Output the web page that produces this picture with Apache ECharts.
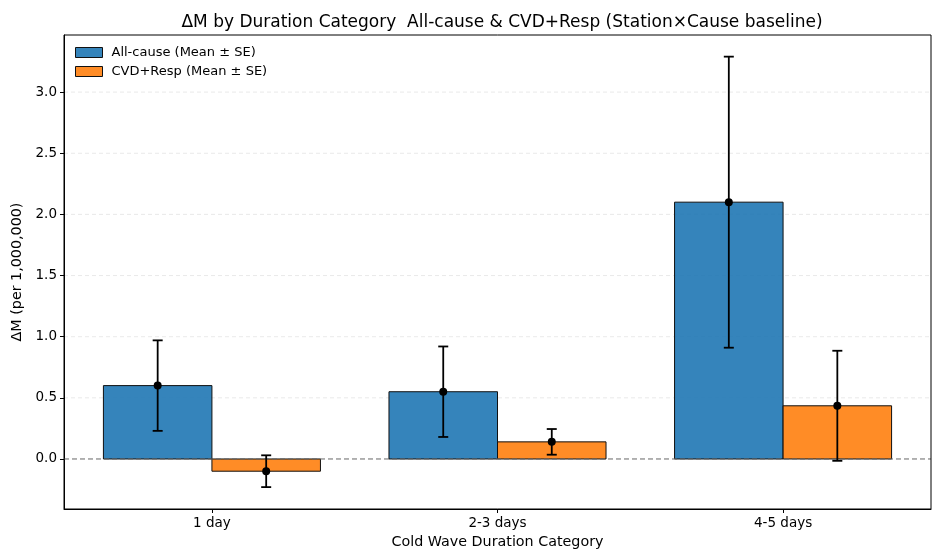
<!DOCTYPE html>
<html>
<head>
<meta charset="UTF-8">
<title>ΔM by Duration Category</title>
<script src="https://cdn.jsdelivr.net/npm/echarts@6/dist/echarts.min.js"></script>
<style>
  html, body { margin: 0; padding: 0; background: #fff; }
  #main { width: 945px; height: 559px; }
</style>
</head>
<body>
<div id="main"></div>
<script>
// data
var categories = ['1 day', '2-3 days', '4-5 days'];
var allMean = [0.60, 0.55, 2.10];
var allSE = [0.37, 0.37, 1.19];
var cvdMean = [-0.10, 0.14, 0.435];
var cvdSE = [0.13, 0.105, 0.45];
var yTicks = [0.0, 0.5, 1.0, 1.5, 2.0, 2.5, 3.0];

var barW = 0.38;   // bar width in category units
var xMin = -0.518, xMax = 2.518;
var FONT = 'DejaVu Sans';

var chart = echarts.init(document.getElementById('main'));

function barData(means, off) {
  return means.map(function (v, i) { return [i + off, v]; });
}
function errData(means, ses, off) {
  return means.map(function (v, i) { return [i + off, v, ses[i]]; });
}

// bar drawn through the axis scales
function renderBar(params, api) {
  var x = api.value(0), v = api.value(1);
  var p0 = api.coord([x - barW / 2, 0]);
  var p1 = api.coord([x + barW / 2, v]);
  return {
    type: 'rect',
    shape: {
      x: p0[0], y: Math.min(p0[1], p1[1]),
      width: p1[0] - p0[0], height: Math.abs(p1[1] - p0[1])
    },
    style: { fill: api.visual('color'), stroke: '#111', lineWidth: 1 }
  };
}

// error bar + mean marker
function renderErr(params, api) {
  var x = api.value(0), m = api.value(1), se = api.value(2);
  var top = api.coord([x, m + se]);
  var bot = api.coord([x, m - se]);
  var mid = api.coord([x, m]);
  var cap = 5;
  var ls = { stroke: '#000', lineWidth: 1.8 };
  return {
    type: 'group',
    children: [
      { type: 'line', shape: { x1: top[0], y1: top[1], x2: bot[0], y2: bot[1] }, style: ls },
      { type: 'line', shape: { x1: top[0] - cap, y1: top[1], x2: top[0] + cap, y2: top[1] }, style: ls },
      { type: 'line', shape: { x1: bot[0] - cap, y1: bot[1], x2: bot[0] + cap, y2: bot[1] }, style: ls },
      { type: 'circle', shape: { cx: mid[0], cy: mid[1], r: 4 }, style: { fill: '#000' } }
    ]
  };
}

// horizontal line across the plot at a y value
function hLine(color, dash, width) {
  return function (params, api) {
    var y = api.value(0);
    var a = api.coord([xMin, y]);
    var b = api.coord([xMax, y]);
    return {
      type: 'line',
      shape: { x1: a[0], y1: a[1], x2: b[0], y2: b[1] },
      style: { stroke: color, lineDash: dash, lineWidth: width }
    };
  };
}

var option = {
  animation: false,
  textStyle: { fontFamily: FONT },
  title: {
    text: 'ΔM by Duration Category  All-cause & CVD+Resp (Station×Cause baseline)',
    left: 497, top: 9, textAlign: 'center',
    textStyle: { fontFamily: FONT, fontSize: 17, fontWeight: 'normal', color: '#000' }
  },
  legend: {
    orient: 'vertical',
    left: 70, top: 41,
    itemWidth: 27, itemHeight: 10, itemGap: 6,
    icon: 'rect',
    textStyle: { fontFamily: FONT, fontSize: 13, color: '#000', padding: [0, 0, 0, 4] },
    data: [
      { name: 'All-cause (Mean ± SE)', itemStyle: { borderColor: '#111', borderWidth: 1 } },
      { name: 'CVD+Resp (Mean ± SE)', itemStyle: { borderColor: '#111', borderWidth: 1 } }
    ]
  },
  grid: { left: 64, right: 14, top: 35, bottom: 50 },
  xAxis: {
    type: 'value',
    min: xMin, max: xMax,
    name: 'Cold Wave Duration Category',
    nameLocation: 'middle', nameGap: 26,
    nameTextStyle: { fontFamily: FONT, fontSize: 14.3, color: '#000' },
    axisLine: { onZero: false, lineStyle: { color: '#000', width: 1 } },
    axisTick: { customValues: [0, 1, 2], length: 4, lineStyle: { color: '#000' } },
    axisLabel: {
      customValues: [0, 1, 2], margin: 7,
      fontFamily: FONT, fontSize: 13.5, color: '#000',
      formatter: function (v) { return categories[Math.round(v)]; }
    },
    splitLine: { show: false }
  },
  yAxis: {
    type: 'value',
    min: -0.409, max: 3.467,
    name: 'ΔM (per 1,000,000)',
    nameLocation: 'middle', nameGap: 37, nameRotate: 90,
    nameTextStyle: { fontFamily: FONT, fontSize: 14.3, color: '#000' },
    axisLine: { show: true, onZero: false, lineStyle: { color: '#000', width: 1 } },
    axisTick: { show: true, customValues: yTicks, length: 4, lineStyle: { color: '#000' } },
    axisLabel: {
      customValues: yTicks, margin: 7,
      fontFamily: FONT, fontSize: 13.5, color: '#000',
      formatter: function (v) { return v.toFixed(1); }
    },
    splitLine: { show: false }
  },
  graphic: [{
    type: 'rect', silent: true, z: 100,
    shape: { x: 64, y: 35, width: 867, height: 474 },
    style: { fill: 'none', stroke: '#000', lineWidth: 1 }
  }],
  series: [
    {
      // horizontal gridlines (below the bars)
      type: 'custom', z: 0, silent: true,
      renderItem: hLine('#e3e3e3', [4, 3], 0.8),
      data: yTicks.filter(function (t) { return t !== 0; }).map(function (t) { return [t]; })
    },
    {
      name: 'All-cause (Mean ± SE)',
      type: 'custom', z: 2,
      itemStyle: { color: 'rgba(31,119,180,0.9)' },
      renderItem: renderBar,
      data: barData(allMean, -barW / 2)
    },
    {
      name: 'CVD+Resp (Mean ± SE)',
      type: 'custom', z: 2,
      itemStyle: { color: 'rgba(255,127,14,0.9)' },
      renderItem: renderBar,
      data: barData(cvdMean, barW / 2)
    },
    {
      // zero reference line on top of bars
      type: 'custom', z: 3, silent: true,
      renderItem: hLine('#666', [5, 3], 1),
      data: [[0]]
    },
    {
      type: 'custom', z: 4, silent: true,
      renderItem: renderErr,
      data: errData(allMean, allSE, -barW / 2)
    },
    {
      type: 'custom', z: 4, silent: true,
      renderItem: renderErr,
      data: errData(cvdMean, cvdSE, barW / 2)
    }
  ]
};

chart.setOption(option);
</script>
</body>
</html>
